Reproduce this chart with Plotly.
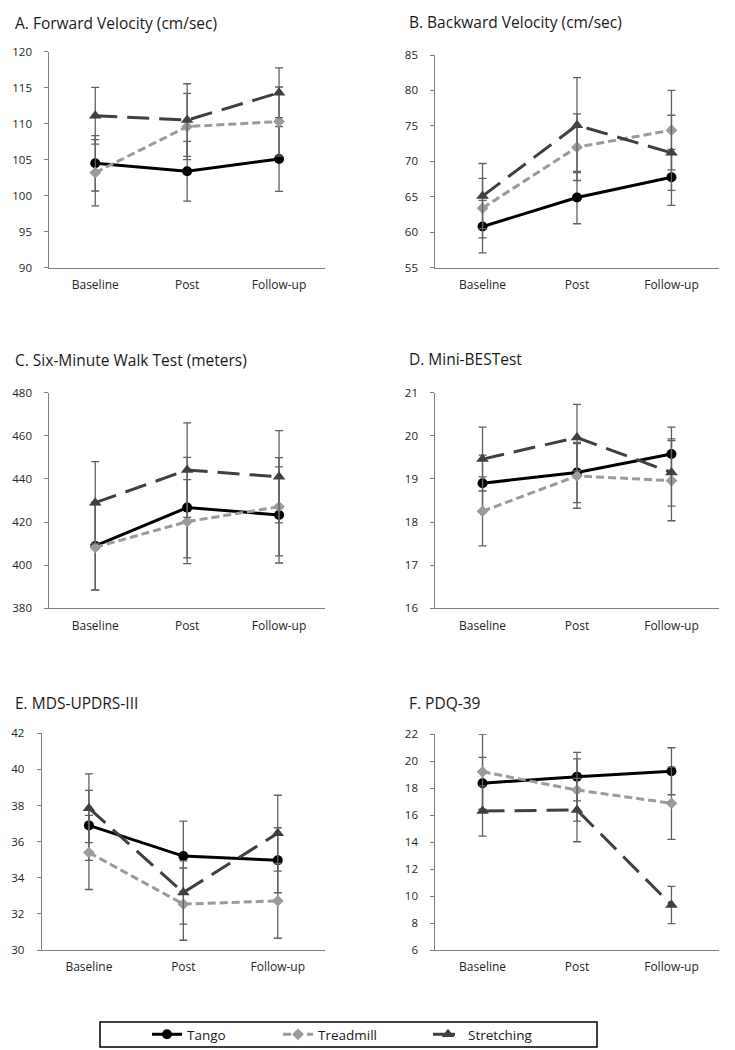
import plotly.graph_objects as go

phases = ["Baseline", "Post", "Follow-up"]
groups = ["Tango", "Treadmill", "Stretching"]

titles = [
    "A. Forward Velocity (cm/sec)",
    "B. Backward Velocity (cm/sec)",
    "C. Six-Minute Walk Test (meters)",
    "D. Mini-BESTest",
    "E. MDS-UPDRS-III",
    "F. PDQ-39",
]

# means per panel: [Tango, Treadmill, Stretching]
fwd_mean = [[104.5, 103.4, 105.1], [103.2, 109.6, 110.3], [111.1, 110.5, 114.3]]
fwd_err = [[3.85, 4.15, 4.5], [4.6, 4.6, 4.8], [3.95, 5.05, 3.45]]

bwd_mean = [[60.8, 64.9, 67.75], [63.4, 72.0, 74.4], [65.1, 75.1, 71.2]]
bwd_err = [[3.7, 3.7, 3.95], [4.2, 4.7, 5.6], [4.6, 6.7, 5.3]]

walk_mean = [[408.9, 426.7, 423.3], [408.3, 420.2, 427.1], [429.0, 444.1, 441.0]]
walk_err = [[20.5, 23.3, 22.3], [19.8, 19.5, 22.8], [19.0, 21.9, 21.4]]

best_mean = [[18.9, 19.15, 19.58], [18.25, 19.07, 18.96], [19.46, 19.96, 19.15]]
best_err = [[0.65, 0.7, 0.62], [0.8, 0.75, 0.93], [0.74, 0.77, 0.78]]

updrs_mean = [[36.9, 35.2, 34.97], [35.4, 32.54, 32.72], [37.85, 33.18, 36.47]]
updrs_err = [[1.94, 1.94, 1.8], [2.05, 2.0, 2.07], [1.9, 1.75, 2.1]]

pdq_mean = [[18.35, 18.84, 19.24], [19.2, 17.85, 16.87], [16.3, 16.37, 9.33]]
pdq_err = [[1.92, 1.8, 1.74], [2.8, 2.3, 2.67], [1.86, 2.35, 1.38]]

y_ranges = [[90, 120, 5], [55, 85, 5], [380, 480, 20], [16, 21, 1], [30, 42, 2], [6, 22, 2]]

panels = [
    (fwd_mean, fwd_err),
    (bwd_mean, bwd_err),
    (walk_mean, walk_err),
    (best_mean, best_err),
    (updrs_mean, updrs_err),
    (pdq_mean, pdq_err),
]

# the page body has an 8px margin, so the figure is 8px smaller and shifted
OFF = 8
W, H = 735 - OFF, 1050 - OFF
# plot boxes in page pixels: left, right, top, bottom
boxes = [
    (49.3, 325, 51.7, 267.7),
    (435.3, 718.7, 55, 267.7),
    (49.3, 325, 392.7, 608.3),
    (435.3, 718.7, 392.7, 608.3),
    (41.7, 325, 733.3, 950),
    (435.3, 718.7, 734, 950),
]
title_pos = [(13, 23), (407, 22), (13, 360), (407, 359), (13, 703), (407, 703)]


def px(x):
    return (x - OFF) / W


def py(y):
    return 1 - (y - OFF) / H


styles = {
    "Tango": dict(color="#000000", dash="solid", symbol="circle", size=10),
    "Treadmill": dict(color="#9b9b9b", dash="8px,4px", symbol="diamond", size=9),
    "Stretching": dict(color="#404040", dash="22px,10px", symbol="triangle-up", size=11),
}
err_color = "#606060"
font_family = "Open Sans, Noto Sans, sans-serif"

fig = go.Figure()

for p, (means, errs) in enumerate(panels):
    ax = "" if p == 0 else str(p + 1)
    for g, name in enumerate(groups):
        st = styles[name]
        fig.add_trace(
            go.Scatter(
                x=phases,
                y=means[g],
                mode="lines+markers",
                name=name,
                xaxis="x" + ax,
                yaxis="y" + ax,
                line={"color": st["color"], "width": 3, "dash": st["dash"]},
                marker={"symbol": st["symbol"], "size": st["size"], "color": st["color"]},
                error_y={"type": "data", "array": errs[g], "color": err_color, "thickness": 1.3, "width": 4},
                showlegend=(p == 0),
                legend=["legend", "legend2", "legend3"][g],
                cliponaxis=False,
            )
        )

layout = {}
for p, (l, r, t, b) in enumerate(boxes):
    key = "" if p == 0 else str(p + 1)
    lo, hi, step = y_ranges[p]
    layout["xaxis" + key] = dict(
        domain=[px(l), px(r)],
        anchor="y" + key,
        type="category",
        range=[-0.5, 2.5],
        showline=True,
        linecolor="#7f7f7f",
        linewidth=1,
        ticks="",
        showgrid=False,
        zeroline=False,
        tickfont=dict(size=12, color="#262626"),
        ticklabelstandoff=6,
        fixedrange=True,
    )
    layout["yaxis" + key] = dict(
        domain=[py(b), py(t)],
        anchor="x" + key,
        range=[lo, hi],
        dtick=step,
        tick0=lo,
        showline=True,
        linecolor="#7f7f7f",
        linewidth=1,
        ticks="outside",
        ticklen=4,
        tickcolor="#7f7f7f",
        showgrid=False,
        zeroline=False,
        tickfont=dict(size=11.5, color="#262626"),
        ticklabelstandoff=10,
        fixedrange=True,
    )

annotations = []
for p, (tx, ty) in enumerate(title_pos):
    annotations.append(
        dict(
            text=titles[p],
            x=px(tx),
            y=py(ty),
            xref="paper",
            yref="paper",
            xanchor="left",
            yanchor="middle",
            showarrow=False,
            font=dict(size=15.5, color="#1a1a1a", family=font_family),
        )
    )

legend_text_x = [187, 318, 468]
for i, key in enumerate(["legend", "legend2", "legend3"]):
    layout[key] = dict(
        x=px(legend_text_x[i] - 40),
        y=py(1034.5),
        xanchor="left",
        yanchor="middle",
        orientation="h",
        bgcolor="rgba(0,0,0,0)",
        borderwidth=0,
        font=dict(size=13.5, color="#1a1a1a", family=font_family),
    )

shapes = [
    dict(
        type="rect",
        xref="paper",
        yref="paper",
        x0=px(100),
        x1=px(597),
        y0=py(1047),
        y1=py(1022),
        line=dict(color="#000000", width=1.5),
    )
]

fig.update_layout(
    **layout,
    annotations=annotations,
    shapes=shapes,
    width=W,
    height=H,
    margin=dict(l=0, r=0, t=0, b=0, autoexpand=False),
    paper_bgcolor="white",
    plot_bgcolor="white",
    font=dict(family=font_family, color="#262626"),
)

fig.write_html("out.html")
